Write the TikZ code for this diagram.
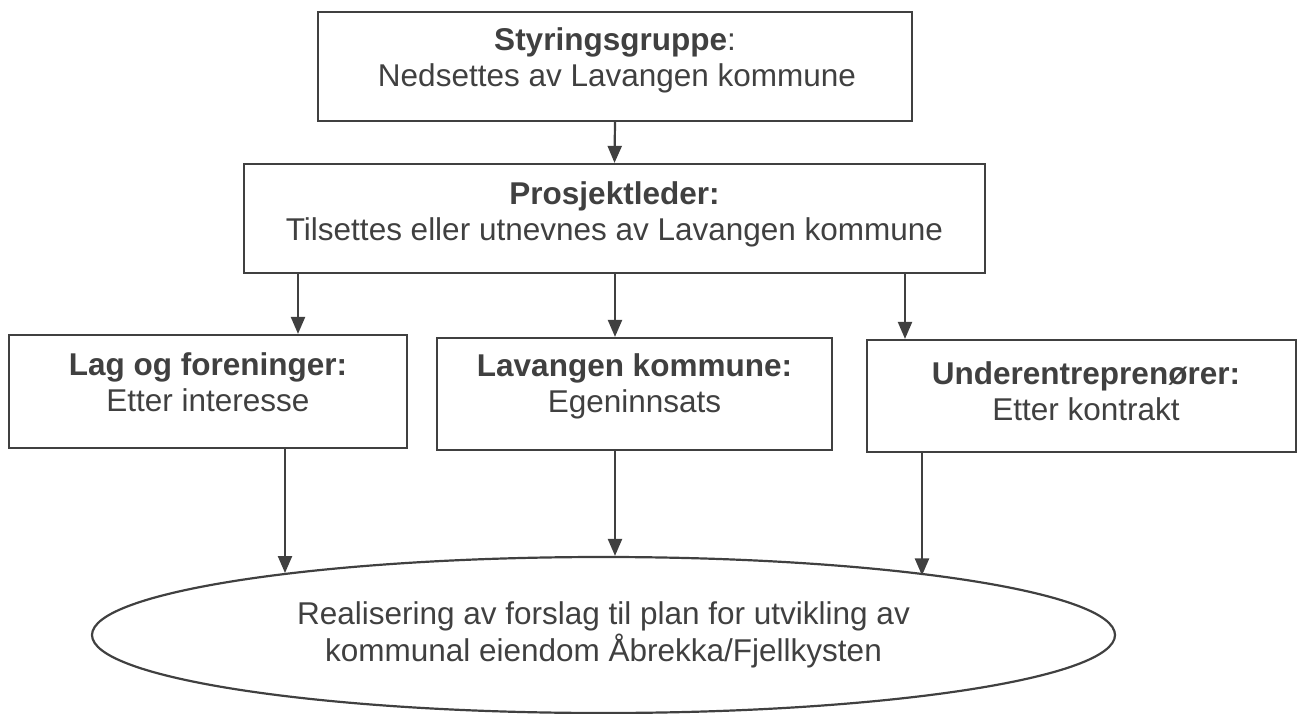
\documentclass[tikz,border=0pt]{standalone}
\usepackage{fontspec}
\setmainfont{Liberation Sans}
\usetikzlibrary{arrows.meta,shapes.geometric}
\definecolor{ink}{HTML}{404040}
\begin{document}
\begin{tikzpicture}
  [x=1pt,y=-1pt,every node/.style={inner sep=0pt,text=ink},
   box/.style={draw=ink,line width=2.2pt,rectangle},
   txt/.style={anchor=base,font=\fontsize{31.5}{36}\selectfont},
   arr/.style={draw=ink,line width=2.2pt,-{Triangle[length=17pt,width=14pt]}}]
\useasboundingbox (0,0) rectangle (1299,714);
% boxes
\node (styr)[box,minimum width=594pt,minimum height=109pt] at (615,66.5) {};
\node (prosj)[box,minimum width=741pt,minimum height=109pt] at (614.5,218.5) {};
\node (lag)[box,minimum width=398pt,minimum height=113pt] at (208,391.5) {};
\node (kom)[box,minimum width=395pt,minimum height=112pt] at (634.5,394) {};
\node (under)[box,minimum width=429pt,minimum height=112pt] at (1081.5,396) {};
\node (real)[draw=ink,line width=2.2pt,ellipse,minimum width=1023pt,minimum height=156pt] at (603.5,635) {};
% texts
\node (styrH)[txt] at (615,51) {\textbf{Styringsgruppe}:};
\node (styrT)[txt] at (617,87) {Nedsettes av Lavangen kommune};
\node (prosjH)[txt] at (614.5,205) {\textbf{Prosjektleder:}};
\node (prosjT)[txt] at (614.5,241) {Tilsettes eller utnevnes av Lavangen kommune};
\node (lagH)[txt] at (208,375) {\textbf{Lag og foreninger:}};
\node (lagT)[txt] at (208,411) {Etter interesse};
\node (komH)[txt] at (634.5,376) {\textbf{Lavangen kommune:}};
\node (komT)[txt] at (634.5,412) {Egeninnsats};
\node (underH)[txt] at (1086,384) {\textbf{Underentreprenører:}};
\node (underT)[txt] at (1086,420) {Etter kontrakt};
\node (realA)[txt] at (603.5,624) {Realisering av forslag til plan for utvikling av};
\node (realB)[txt] at (603.5,661) {kommunal eiendom Åbrekka/Fjellkysten};
% arrows
\draw[arr] (styr.south) -- (prosj.north);
\foreach \x/\to in {298/lag,615/kom,905/under}
  \draw[arr] (prosj.south -| \x,0) -- (\to.north -| \x,0);
\foreach \x/\from/\ang in {285/lag/169.16,615/kom/90,922/under/10.84}
  \draw[arr] (\from.south -| \x,0) -- (\x,0 |- real.\ang);
\end{tikzpicture}
\end{document}
